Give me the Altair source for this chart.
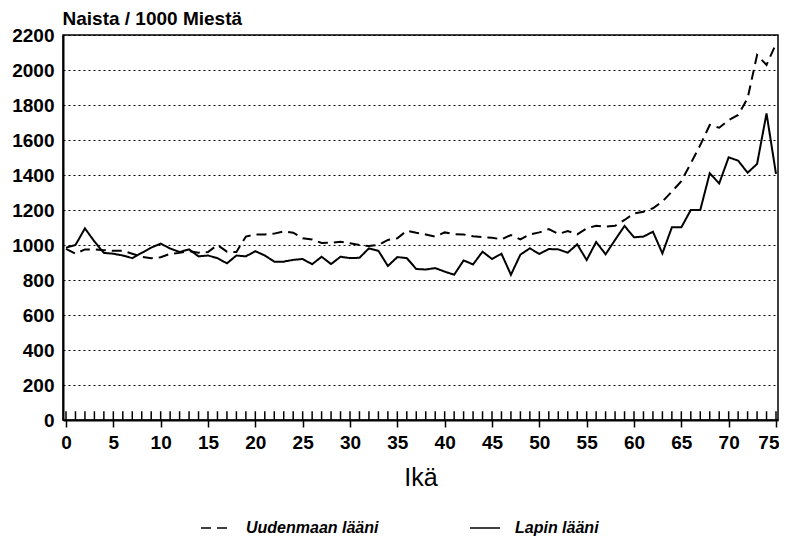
import altair as alt
import pandas as pd

ages = list(range(76))

uusimaa = [978, 950, 975, 975, 970, 967, 967, 950, 933, 925,
           930, 950, 955, 965, 956, 960, 1000, 962, 960, 1048,
           1060, 1060, 1065, 1078, 1070, 1038, 1032, 1012, 1013, 1019,
           1010, 1000, 994, 1000, 1029, 1038, 1082, 1070, 1060, 1048,
           1072, 1062, 1060, 1050, 1045, 1042, 1032, 1057, 1032, 1061,
           1072, 1091, 1063, 1080, 1061, 1095, 1110, 1105, 1110, 1143,
           1180, 1190, 1210, 1248, 1305, 1365, 1467, 1571, 1686, 1670,
           1714, 1743, 1838, 2086, 2029, 2150]

lappi = [985, 1000, 1095, 1020, 955, 950, 940, 925, 955, 985,
         1008, 980, 960, 975, 935, 940, 925, 895, 940, 935,
         965, 940, 905, 905, 915, 920, 890, 933, 891, 933,
         925, 927, 981, 967, 880, 931, 925, 863, 860, 868,
         848, 830, 912, 889, 962, 920, 950, 830, 945, 981,
         949, 977, 975, 956, 1004, 914, 1017, 947, 1029, 1109,
         1044, 1048, 1076, 952, 1101, 1101, 1200, 1200, 1410, 1352,
         1501, 1482, 1413, 1463, 1752, 1406]

series_names = ["Uudenmaan lääni", "Lapin lääni"]
y_ticks = list(range(0, 2201, 200))
x_ticks = list(range(0, 76, 5))
minor_ages = list(range(0, 76))

df = pd.DataFrame({
    "age": ages * 2,
    "value": uusimaa + lappi,
    "series": [series_names[0]] * len(ages) + [series_names[1]] * len(ages),
})
ticks_df = pd.DataFrame({"age": minor_ages})

FONT = "Liberation Sans"

x_scale = alt.Scale(domain=[-0.317, 75.211], nice=False, zero=False)
y_scale = alt.Scale(domain=[0, 2200], nice=False)

x_axis = alt.Axis(values=x_ticks, grid=False, ticks=True, tickSize=7,
                  tickColor="black", tickWidth=1.5, domainColor="black",
                  domainWidth=2, labelPadding=6, labelFontSize=19,
                  labelFontWeight="bold", labelFont=FONT, labelColor="black",
                  labelOverlap=False, labelFlush=2.5, labelFlushOffset=3,
                  format="d",
                  title="Ikä", titleFont=FONT, titleFontSize=25,
                  titleFontWeight="normal", titleColor="black",
                  titlePadding=13)
y_axis = alt.Axis(values=y_ticks, grid=True, gridDash=[2, 3],
                  gridColor="black", gridWidth=1, ticks=False,
                  domainColor="black", domainWidth=2, labelPadding=9,
                  labelFontSize=19, labelFontWeight="bold", labelFont=FONT,
                  labelColor="black", labelOverlap=False,
                  labelFlush=False, format="d",
                  title="Naista / 1000 Miestä", titleAngle=0,
                  titleAlign="left", titleBaseline="middle",
                  titleX=-1, titleY=-17, titleFont=FONT,
                  titleFontSize=19, titleFontWeight="bold",
                  titleColor="black")

lines = alt.Chart(df).mark_line(strokeWidth=2, color="black").encode(
    x=alt.X("age:Q", scale=x_scale, axis=x_axis),
    y=alt.Y("value:Q", scale=y_scale, axis=y_axis),
    strokeDash=alt.StrokeDash(
        "series:N",
        scale=alt.Scale(domain=series_names, range=[[10, 6], [1, 0]]),
        legend=alt.Legend(title=None, orient="none", legendX=137, legendY=477,
                          direction="horizontal", symbolType="stroke",
                          symbolStrokeColor="black", symbolStrokeWidth=1.5,
                          symbolSize=900, labelFont=FONT, labelFontSize=16,
                          labelFontWeight="bold", labelFontStyle="italic",
                          labelColor="black", labelOffset=14,
                          columnPadding=88, labelLimit=300),
    ),
    order=alt.Order("age:Q"),
)

minor = alt.Chart(ticks_df).mark_rule(color="black", strokeWidth=1.5).encode(
    x=alt.X("age:Q", scale=x_scale, axis=x_axis),
    y=alt.Y(datum=0, scale=y_scale, axis=y_axis),
    y2=alt.datum(50),
)

chart = alt.layer(lines, minor).properties(
    width=715,
    height=385,
    autosize=alt.AutoSizeParams(type="none"),
    padding={"left": 55, "top": 27, "right": 1, "bottom": 118},
).configure_view(stroke="black", strokeWidth=1.5)

chart.save("out.html", embed_options={"renderer": "svg", "actions": False})
